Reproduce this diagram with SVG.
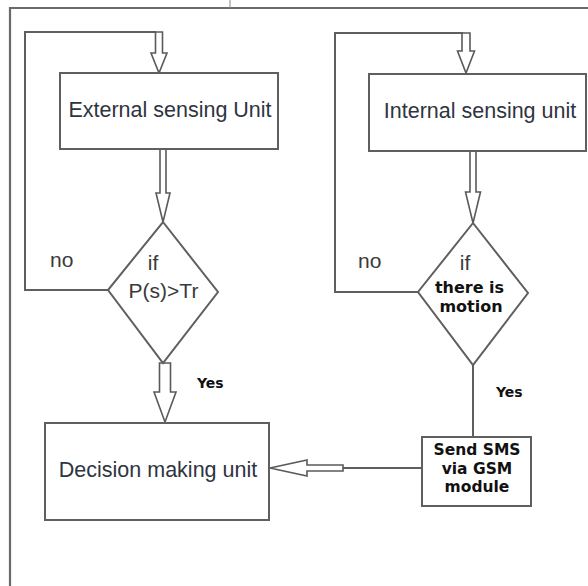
<svg xmlns="http://www.w3.org/2000/svg" width="588" height="586" viewBox="0 0 588 586">
<style>
  .box{fill:#fff;stroke:#5f5f5f;stroke-width:2}
  .line{fill:none;stroke:#5f5f5f;stroke-width:2}
  .hollow{fill:#fff;stroke:#5a5a5a;stroke-width:1.6;stroke-linejoin:miter}
  .frame{fill:none;stroke:#6a6a6a;stroke-width:2.2}
  .lbl{font-family:"Liberation Sans",Arial,sans-serif;font-size:21.5px;fill:#2e3440}
  .small{font-family:"Liberation Sans",Arial,sans-serif;font-size:21px;fill:#3a3a3a}
  .bold{font-family:"DejaVu Sans",Verdana,sans-serif;font-weight:bold;fill:#111}
</style>
<rect width="588" height="586" fill="#fff"/>
<g id="frame">
  <polyline class="frame" points="10,586 10,8 588,8"/>
  <line x1="230" y1="0" x2="230" y2="8" stroke="#888" stroke-width="1"/>
</g>
<g id="connectors">
  <!-- left loop -->
  <polyline class="line" points="108,290 25,290 25,32 156,32"/>
  <polygon class="hollow" points="155.5,32 162.5,32 162.5,53 167,53 159,73 151,53 155.5,53"/>
  <polygon class="hollow" points="160,149 166,149 166,193 170,193 163,222 156,193 160,193"/>
  <polygon class="hollow" points="159.5,363 170.5,363 170.5,392 176,392 165,422 154,392 159.5,392"/>
  <!-- right loop -->
  <polyline class="line" points="418,292 335,292 335,33 463,33"/>
  <polygon class="hollow" points="462,33 470,33 470,51 474.5,51 466,73 457.5,51 462,51"/>
  <polygon class="hollow" points="470,151 476,151 476,192 480.5,192 473,223 465.5,192 470,192"/>
  <line class="line" x1="473" y1="365" x2="473" y2="437"/>
  <!-- SMS to decision -->
  <line class="line" x1="343" y1="468" x2="422" y2="468"/>
  <polygon class="hollow" points="343,465 343,471 307,471 307,476 270,468 307,460 307,465"/>
</g>
<g id="external">
  <rect class="box" x="60" y="73" width="218" height="76"/>
  <text class="lbl" x="170" y="117" text-anchor="middle">External sensing Unit</text>
</g>
<g id="internal">
  <rect class="box" x="369" y="74" width="217" height="77"/>
  <text class="lbl" x="480" y="118" text-anchor="middle">Internal sensing unit</text>
</g>
<g id="decision-ext">
  <polygon class="box" points="163,222 218,292 163,363 108,290"/>
  <text class="small" x="153" y="270" text-anchor="middle">if</text>
  <text class="small" x="163.5" y="298" text-anchor="middle">P(s)&gt;Tr</text>
</g>
<g id="decision-int">
  <polygon class="box" points="473,223 528,293 473,365 418,292"/>
  <text class="small" x="465" y="270" text-anchor="middle">if</text>
  <text class="bold" x="469.5" y="293" font-size="16" text-anchor="middle">there is</text>
  <text class="bold" x="471" y="312" font-size="16" text-anchor="middle">motion</text>
</g>
<g id="labels">
  <text class="small" x="50" y="267">no</text>
  <text class="small" x="358" y="268">no</text>
  <text class="bold" x="197" y="388" font-size="14">Yes</text>
  <text class="bold" x="496" y="397" font-size="14">Yes</text>
</g>
<g id="decision-unit">
  <rect class="box" x="45" y="423" width="224" height="97"/>
  <text class="lbl" x="158" y="477" text-anchor="middle">Decision making unit</text>
</g>
<g id="sms">
  <rect class="box" x="422" y="437" width="109" height="69"/>
  <text class="bold" font-size="15.5" text-anchor="middle"><tspan x="477" y="455">Send SMS</tspan><tspan x="477" y="474">via GSM</tspan><tspan x="477" y="492">module</tspan></text>
</g>
</svg>
